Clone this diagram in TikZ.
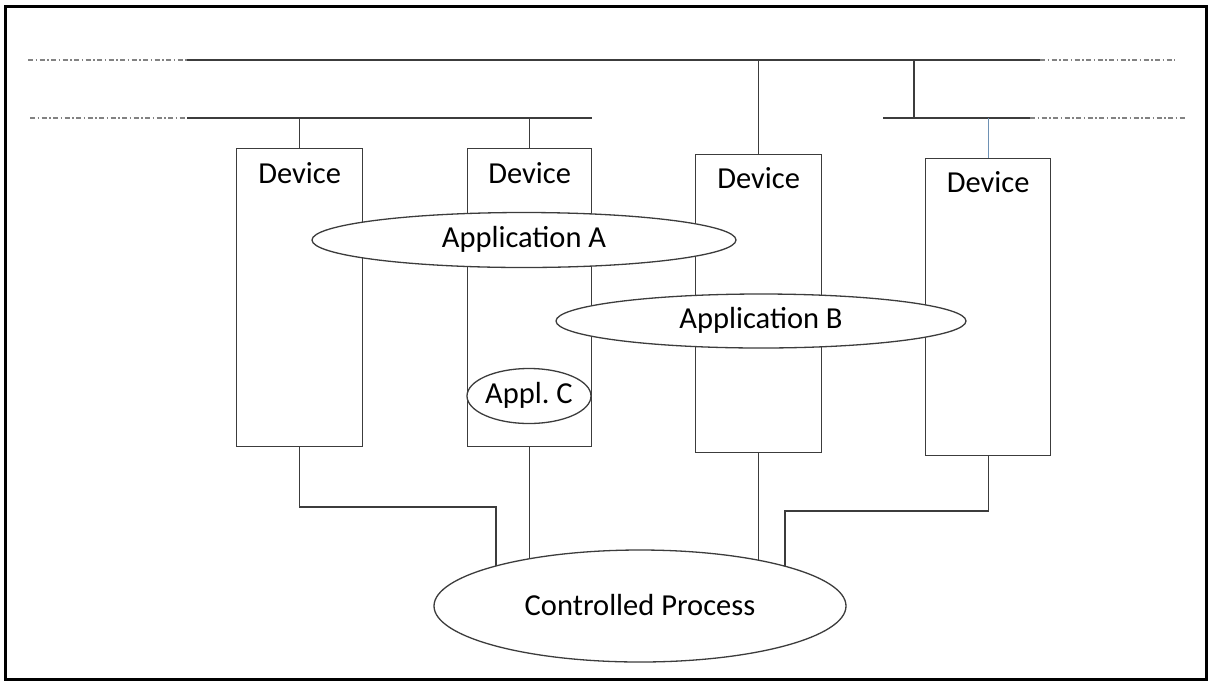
\documentclass[tikz,border=0pt]{standalone}
\usepackage{fontspec}
\setmainfont{Carlito}
\usetikzlibrary{shapes.geometric}
\pgfdeclarelayer{background}
\pgfsetlayers{background,main}
\definecolor{ln}{RGB}{60,60,60}
\definecolor{dd}{RGB}{130,130,130}
\definecolor{bl}{RGB}{110,145,180}
\tikzset{
  wire/.style={draw=ln, line width=1.3pt},
  ddline/.style={draw=dd, line width=1.3pt, dash pattern=on 5pt off 2.5pt on 1.5pt off 2.5pt},
  devbox/.style={draw=ln, line width=1.3pt, rectangle, anchor=north west, inner sep=0pt},
  devtext/.style={anchor=base, inner sep=0pt, font=\fontsize{30.5}{36}\selectfont},
  app/.style={draw=ln, line width=1.3pt, ellipse, fill=white, inner sep=0pt,
     text height=21pt, text depth=6pt, font=\fontsize{30.5}{36}\selectfont},
}
\begin{document}
\frenchspacing
\begin{tikzpicture}[x=1pt,y=-1pt]
\useasboundingbox (0,0) rectangle (1209,681);
\draw[line width=3pt, black] (5.5,6) rectangle (1206,679.5);

% buses
\coordinate (b1l) at (28,60);
\coordinate (b1a) at (187,60);
\coordinate (b1b) at (1040,60);
\coordinate (b1r) at (1175,60);
\coordinate (b2l) at (30,118);
\coordinate (b2a) at (187,118);
\coordinate (b2b) at (592,118);
\coordinate (b3a) at (883,118);
\coordinate (b3b) at (1030,118);
\coordinate (b3r) at (1185,118);
\draw[ddline] (b1l) -- (b1a);
\draw[wire] (b1a) -- (b1b);
\draw[ddline] (b1b) -- (b1r);
\draw[ddline] (b2l) -- (b2a);
\draw[wire] (b2a) -- (b2b);
\draw[wire] (b3a) -- (b3b);
\draw[ddline] (b3b) -- (b3r);
\coordinate (t3) at (914,60);
\coordinate (t3b) at (914,118);
\draw[wire] (t3) -- (t3b);

% devices
\node[devbox, minimum width=126pt, minimum height=298pt] (d1) at (236,148) {};
\node[devbox, minimum width=124pt, minimum height=298pt] (d2) at (467,148) {};
\node[devbox, minimum width=126pt, minimum height=298pt] (d3) at (695,154) {};
\node[devbox, minimum width=125pt, minimum height=297pt] (d4) at (925,158) {};
\node[devtext] (d1t) at ([yshift=-35pt]d1.north) {Device};
\node[devtext] (d2t) at ([yshift=-35pt]d2.north) {Device};
\node[devtext] (d3t) at ([yshift=-34pt]d3.north) {Device};
\node[devtext] (d4t) at ([yshift=-34pt]d4.north) {Device};

% bus drops
\draw[wire] (d1.north |- b2a) -- (d1.north);
\draw[wire] (d2.north |- b2a) -- (d2.north);
\draw[wire] (d3.north |- b1a) -- (d3.north);
\draw[draw=bl, line width=1.3pt] (d4.north |- b3a) -- (d4.north);

% applications
\node[app, minimum width=424pt, minimum height=55pt] (appa) at (524,240) {Application A};
\node[app, minimum width=410pt, minimum height=54pt] (appb) at (761,321) {Application B};
\node[app, minimum width=124pt, minimum height=55pt] (appc) at (529,396) {Appl. C};

% controlled process
\node[app, minimum width=412pt, minimum height=112pt, text height=20pt, text depth=2pt] (cp) at (640,606) {Controlled Process};

\begin{pgfonlayer}{background}
\coordinate (c1b) at (496,507);
\coordinate (c4b) at (785,511);
\draw[wire] (d1.south) -- (d1.south |- c1b) -- (c1b) -- (c1b |- cp.center);
\draw[wire] (d2.south) -- (d2.south |- cp.center);
\draw[wire] (d3.south) -- (d3.south |- cp.center);
\draw[wire] (d4.south) -- (d4.south |- c4b) -- (c4b) -- (c4b |- cp.center);
\end{pgfonlayer}
\end{tikzpicture}
\end{document}
